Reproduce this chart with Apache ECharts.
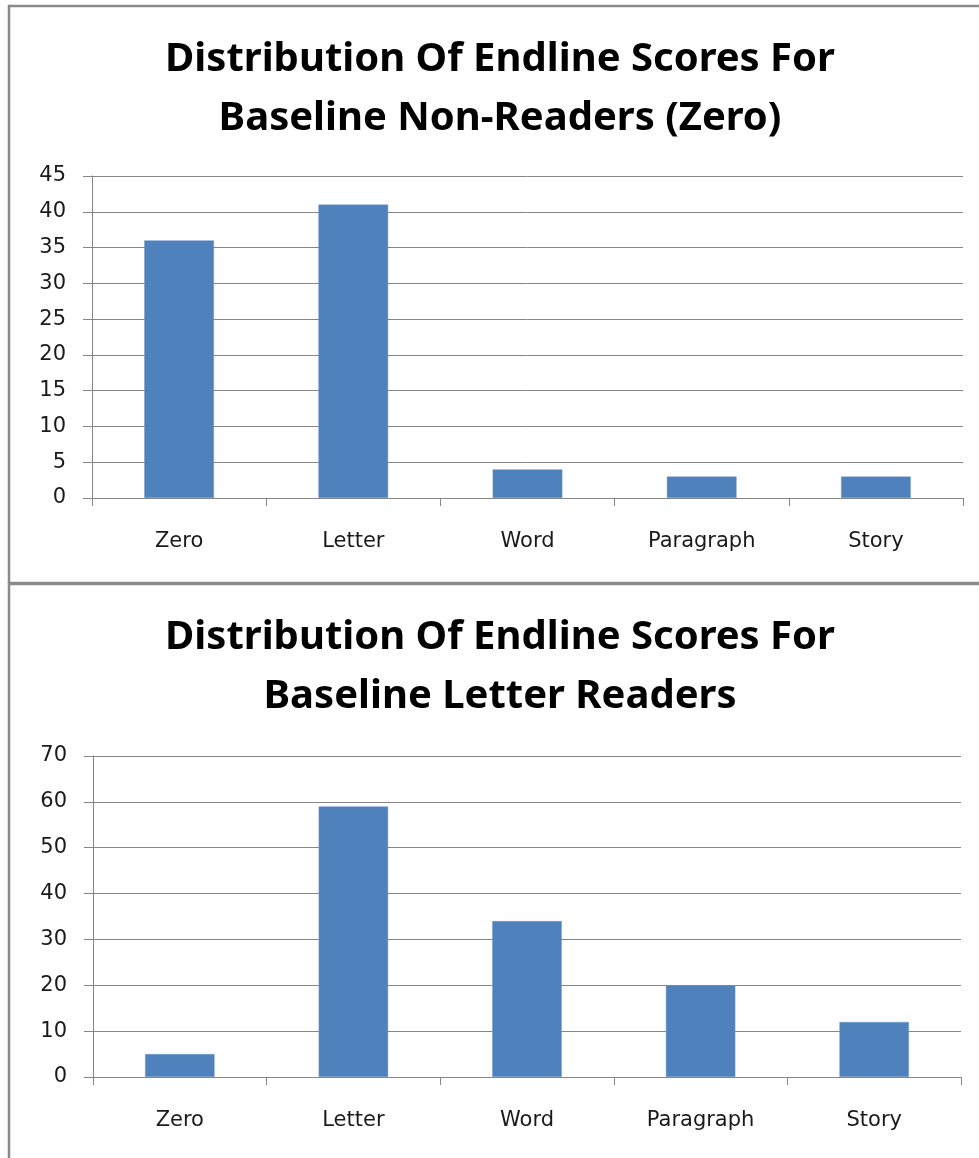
<!DOCTYPE html>
<html>
<head>
<meta charset="utf-8">
<script src="https://cdn.jsdelivr.net/npm/echarts@6/dist/echarts.min.js"></script>
<style>
  html, body { margin: 0; padding: 0; background: #fff; overflow: hidden; }
  #chart { width: 1000px; height: 1158px; }
</style>
</head>
<body>
<div id="chart"></div>
<script>
// Reading levels on the category axis
const categories = ['Zero', 'Letter', 'Word', 'Paragraph', 'Story'];
// Endline scores of pupils who were non-readers at baseline
const nonReadersValues = [36, 41, 4, 3, 3];
// Endline scores of pupils who were letter readers at baseline
const letterReadersValues = [5, 59, 34, 20, 12];

const topTitle = 'Distribution Of Endline Scores For\nBaseline Non-Readers (Zero)';
const bottomTitle = 'Distribution Of Endline Scores For\nBaseline Letter Readers';

const BAR = '#4F81BD';
const GRID_LINE = '#868686';
const TEXT = '#1a1a1a';
const LABEL_FONT = 'DejaVu Sans';
const TITLE_FONT = 'Noto Sans';

function titleOpt(text, top) {
  return {
    text: text,
    left: 'center',
    top: top,
    textStyle: {
      fontFamily: TITLE_FONT,
      fontWeight: 'bold',
      fontSize: 40,
      lineHeight: 59,
      color: '#000'
    }
  };
}

function xAxisOpt(gridIndex) {
  return {
    type: 'category',
    gridIndex: gridIndex,
    data: categories,
    boundaryGap: true,
    axisLine: { lineStyle: { color: GRID_LINE, width: 1 } },
    axisTick: { show: true, length: 8, interval: 0, lineStyle: { color: GRID_LINE } },
    axisLabel: { margin: 33, color: TEXT, fontFamily: LABEL_FONT, fontSize: 21, interval: 0 }
  };
}

function yAxisOpt(gridIndex, max, interval) {
  return {
    type: 'value',
    gridIndex: gridIndex,
    min: 0,
    max: max,
    interval: interval,
    axisLine: { show: true, lineStyle: { color: GRID_LINE, width: 1 } },
    axisTick: { show: true, length: 9, lineStyle: { color: GRID_LINE } },
    axisLabel: { margin: 26, color: TEXT, fontFamily: LABEL_FONT, fontSize: 21 },
    splitLine: { show: true, lineStyle: { color: GRID_LINE, width: 1 } }
  };
}

const chart = echarts.init(document.getElementById('chart'), null, { renderer: 'canvas' });

chart.setOption({
  animation: false,
  backgroundColor: '#fff',
  title: [titleOpt(topTitle, 25), titleOpt(bottomTitle, 603)],
  grid: [
    { left: 92, top: 176, width: 871, height: 322 },
    { left: 93, top: 756, width: 868, height: 321 }
  ],
  xAxis: [xAxisOpt(0), xAxisOpt(1)],
  yAxis: [yAxisOpt(0, 45, 5), yAxisOpt(1, 70, 10)],
  series: [
    {
      type: 'bar',
      xAxisIndex: 0,
      yAxisIndex: 0,
      data: nonReadersValues,
      barWidth: '40%',
      itemStyle: { color: BAR, borderColor: '#6f97c9', borderWidth: 0.5 }
    },
    {
      type: 'bar',
      xAxisIndex: 1,
      yAxisIndex: 1,
      data: letterReadersValues,
      barWidth: '40%',
      itemStyle: { color: BAR, borderColor: '#6f97c9', borderWidth: 0.5 }
    }
  ],
  graphic: [
    {
      type: 'rect',
      silent: true,
      shape: { x: 9, y: 6, width: 1010, height: 577 },
      style: { fill: 'none', stroke: '#8a8a8a', lineWidth: 2.5 }
    },
    {
      type: 'rect',
      silent: true,
      shape: { x: 9, y: 584, width: 1010, height: 600 },
      style: { fill: 'none', stroke: '#8a8a8a', lineWidth: 2.5 }
    }
  ]
});
</script>
</body>
</html>
